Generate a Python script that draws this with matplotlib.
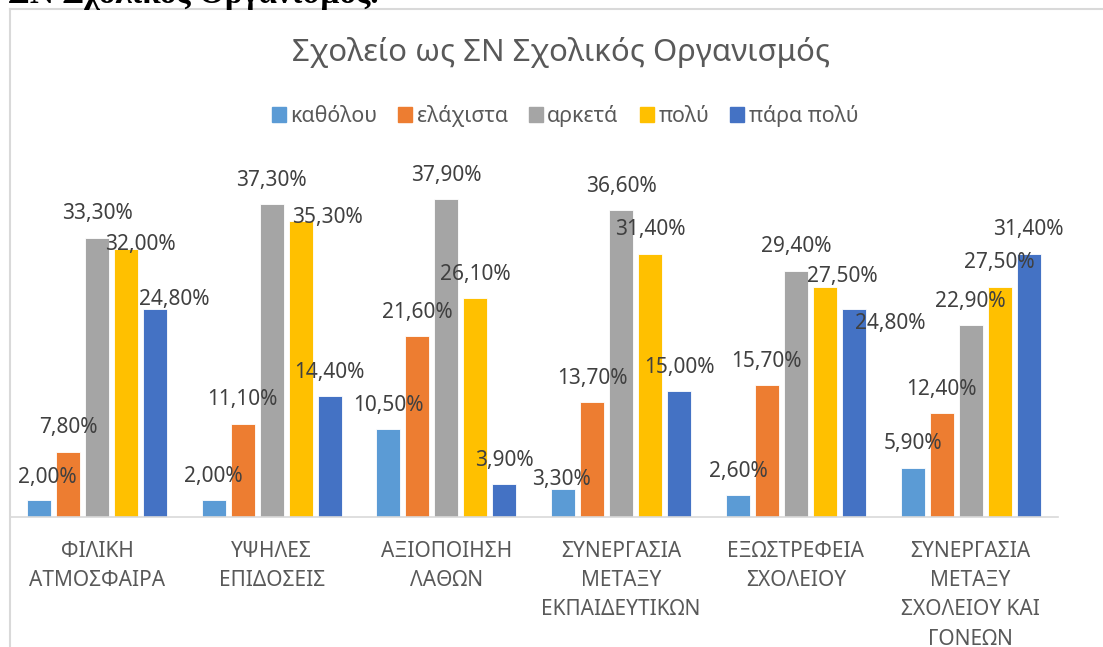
import numpy as np
import matplotlib.pyplot as plt
from matplotlib.lines import Line2D

plt.rcParams['font.family'] = ['Noto Sans', 'DejaVu Sans']

categories = ['ΦΙΛΙΚΗ\nΑΤΜΟΣΦΑΙΡΑ', 'ΥΨΗΛΕΣ\nΕΠΙΔΟΣΕΙΣ', 'ΑΞΙΟΠΟΙΗΣΗ\nΛΑΘΩΝ',
              'ΣΥΝΕΡΓΑΣΙΑ\nΜΕΤΑΞΥ\nΕΚΠΑΙΔΕΥΤΙΚΩΝ', 'ΕΞΩΣΤΡΕΦΕΙΑ\nΣΧΟΛΕΙΟΥ',
              'ΣΥΝΕΡΓΑΣΙΑ\nΜΕΤΑΞΥ\nΣΧΟΛΕΙΟΥ ΚΑΙ\nΓΟΝΕΩΝ']
series = ['καθόλου', 'ελάχιστα', 'αρκετά', 'πολύ', 'πάρα πολύ']

kathólou = [2.0, 2.0, 10.5, 3.3, 2.6, 5.9]
elaxista = [7.8, 11.1, 21.6, 13.7, 15.7, 12.4]
arketa = [33.3, 37.3, 37.9, 36.6, 29.4, 22.9]
poly = [32.0, 35.3, 26.1, 31.4, 27.5, 27.5]
para_poly = [24.8, 14.4, 3.9, 15.0, 24.8, 31.4]

values = [kathólou, elaxista, arketa, poly, para_poly]
colors = ['#5B9BD5', '#ED7D31', '#A5A5A5', '#FFC000', '#4472C4']

# label nudges (pixels) where Excel moved labels: (group, series) -> (dx, dy)
nudge = {(0, 0): (8, 23), (0, 3): (14, 4), (0, 4): (19, 10), (1, 3): (27, 4),
         (3, 0): (-2, 10), (4, 3): (17, 10), (4, 4): (36, -14)}

fig = plt.figure(figsize=(11.03, 6.47), dpi=100)
ax = fig.add_axes([0.0087, 0.2009, 0.9505, 0.5181])

x = np.arange(len(categories))
step = 0.166
width = 0.137
for i, (name, vals, c) in enumerate(zip(series, values, colors)):
    pos = x + (i - 2) * step
    ax.bar(pos, vals, width=width, color=c, edgecolor='white', linewidth=0.6, label=name)
    for g, (p, v) in enumerate(zip(pos, vals)):
        dx, dy = nudge.get((g, i), (0, 24))
        ax.annotate(f'{v:.2f}%'.replace('.', ','), (p, v), xytext=(dx, dy),
                    textcoords='offset pixels', ha='center', va='center',
                    fontsize=15, color='#404040')

ax.set_xlim(-0.5, 5.5)
ax.set_ylim(0, 40)
ax.set_yticks([])
ax.set_xticks(x)
ax.set_xticklabels(categories, fontsize=15, color='#595959', linespacing=1.52)
ax.tick_params(axis='x', length=0, pad=17)
for s in ['top', 'right', 'left']:
    ax.spines[s].set_visible(False)
ax.spines['bottom'].set_color('#D9D9D9')
ax.spines['bottom'].set_linewidth(1.2)

fig.text(561 / 1103, 1 - 52 / 647, 'Σχολείο ως ΣΝ Σχολικός Οργανισμός',
         ha='center', va='center', fontsize=22.4, color='#595959')

handles = [plt.Rectangle((0, 0), 1, 1, color=c) for c in colors]
fig.legend(handles, series, loc='center', bbox_to_anchor=(565 / 1103, 1 - 116 / 647),
           ncol=5, frameon=False, fontsize=15.4, labelcolor='#595959',
           handlelength=0.65, handleheight=0.65, handletextpad=0.2, columnspacing=1.0)

# chart area border
fig.add_artist(Line2D([10 / 1103, 10 / 1103], [0, 1 - 9 / 647], color='#D9D9D9', lw=1.5))
fig.add_artist(Line2D([10 / 1103, 1], [1 - 9 / 647, 1 - 9 / 647], color='#D9D9D9', lw=1.5))

# cut-off document text above the chart
fig.text(8 / 1103, 1 - 3 / 647, 'ΣΝ Σχολικός Οργανισμός.', ha='left', va='baseline',
         fontsize=24, fontweight='bold', family='Liberation Serif', color='black')

fig.savefig('out.png', dpi=100)
